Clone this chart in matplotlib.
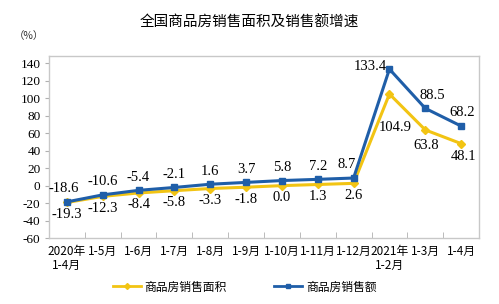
import matplotlib
matplotlib.use("Agg")
import matplotlib.pyplot as plt
from matplotlib.lines import Line2D

plt.rcParams['font.family'] = ['Liberation Serif', 'Noto Sans CJK SC', 'DejaVu Sans']

categories = ["2020年\n1-4月", "1-5月", "1-6月", "1-7月", "1-8月", "1-9月", "1-10月",
              "1-11月", "1-12月", "2021年\n1-2月", "1-3月", "1-4月"]
area = [-19.3, -12.3, -8.4, -5.8, -3.3, -1.8, 0.0, 1.3, 2.6, 104.9, 63.8, 48.1]
sales = [-18.6, -10.6, -5.4, -2.1, 1.6, 3.7, 5.8, 7.2, 8.7, 133.4, 88.5, 68.2]
yticks = [-60, -40, -20, 0, 20, 40, 60, 80, 100, 120, 140]
title = "全国商品房销售面积及销售额增速"
legend_labels = ["商品房销售面积", "商品房销售额"]

blue = "#1f5ea8"
yellow = "#f2c413"

fig = plt.figure(figsize=(4.99, 3.04), dpi=100)
ax = fig.add_axes([0.098, 0.217, 0.862, 0.599])
x = list(range(len(categories)))

ax.plot(x, area, color=yellow, lw=2.2, marker='D', ms=3.8, zorder=3)
ax.plot(x, sales, color=blue, lw=2.2, marker='s', ms=3.8, zorder=4)

ax.set_xlim(-0.5, len(categories) - 0.5)
ax.set_ylim(-60, 148.5)
ax.set_yticks(yticks)
ax.set_yticklabels([str(v) for v in yticks], fontsize=9.5)
ax.set_xticks(x)
ax.set_xticklabels(categories, fontsize=8.5, family=['Noto Sans CJK SC'], linespacing=1.05)
ax.set_xticks([i + 0.5 for i in x[:-1]], minor=True)
ax.tick_params(axis='x', which='major', length=0, pad=5)
ax.tick_params(axis='x', which='minor', length=4, color='#b0b0b0', direction='in')
ax.tick_params(axis='y', length=3, color='#b0b0b0', pad=3)

for s in ax.spines.values():
    s.set_color('#c8c8c8')
    s.set_linewidth(1)

fs = 10.5
for i, (a, s) in enumerate(zip(area, sales)):
    if i < 9:
        dx = -5 if i == 8 else (-2 if i == 0 else 0)
        ax.annotate(f"{s:.1f}", (i, s), xytext=(dx, 9.5), textcoords='offset points',
                    ha='center', va='center', fontsize=fs)
        ax.annotate(f"{a:.1f}", (i, a), xytext=(0, -8.5), textcoords='offset points',
                    ha='center', va='center', fontsize=fs)

# labels around the 2021 jump
ax.annotate(f"{sales[9]:.1f}", (9, sales[9]), xytext=(-13.5, 2), textcoords='offset points',
            ha='center', va='center', fontsize=fs)
ax.annotate(f"{area[9]:.1f}", (9, area[9]), xytext=(4, -24), textcoords='offset points',
            ha='center', va='center', fontsize=fs)
ax.annotate(f"{sales[10]:.1f}", (10, sales[10]), xytext=(5, 9), textcoords='offset points',
            ha='center', va='center', fontsize=fs)
ax.annotate(f"{area[10]:.1f}", (10, area[10]), xytext=(1, -11.5), textcoords='offset points',
            ha='center', va='center', fontsize=fs)
ax.annotate(f"{sales[11]:.1f}", (11, sales[11]), xytext=(1, 9.5), textcoords='offset points',
            ha='center', va='center', fontsize=fs)
ax.annotate(f"{area[11]:.1f}", (11, area[11]), xytext=(1.5, -9.5), textcoords='offset points',
            ha='center', va='center', fontsize=fs)

fig.text(0.5, 0.924, title, ha='center', va='center', fontsize=10.5,
         family=['Noto Sans CJK SC'])
fig.text(0.058, 0.882, "（%）", ha='center', va='center', fontsize=7.5, color='#333333',
         family=['Noto Sans CJK SC'])

handles = [Line2D([], [], color=yellow, lw=2, marker='D', ms=3),
           Line2D([], [], color=blue, lw=2, marker='s', ms=3)]
fig.legend(handles, legend_labels, loc='center', bbox_to_anchor=(0.49, 0.056), ncol=2,
           frameon=False, prop={'family': 'Noto Sans CJK SC', 'size': 8.5},
           handlelength=2.4, columnspacing=4.0, handletextpad=0.3)

fig.savefig("out.png", dpi=100)
